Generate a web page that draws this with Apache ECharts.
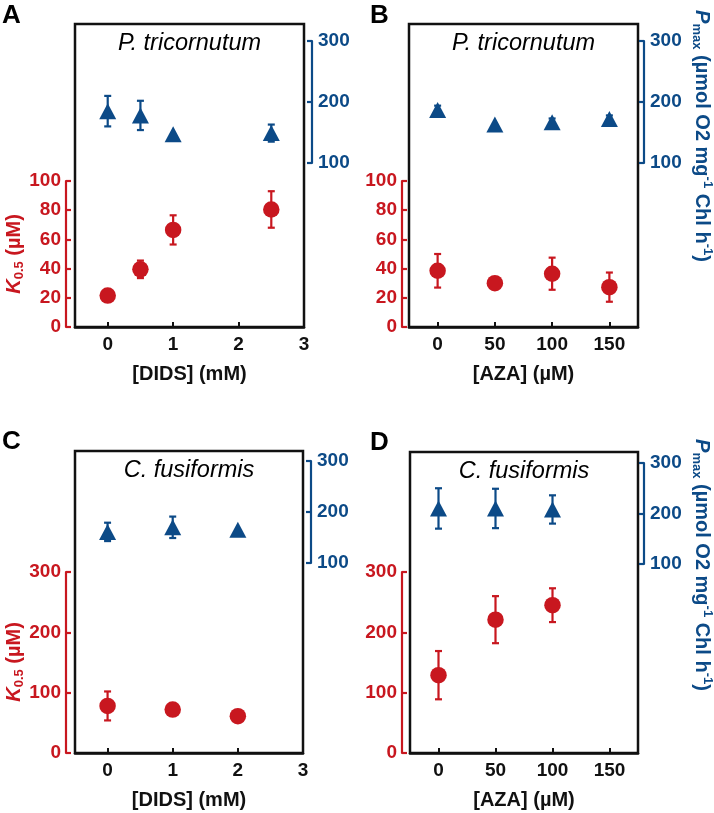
<!DOCTYPE html>
<html>
<head>
<meta charset="utf-8">
<script src="https://cdn.jsdelivr.net/npm/echarts@6/dist/echarts.min.js"></script>
<style>html,body{margin:0;padding:0;background:#fff}#c{width:714px;height:813px}</style>
</head>
<body>
<div id="c"></div>
<script>
// ---------- DATA ----------
// Panel A: P. tricornutum, DIDS (mM)
const catA = [0, 0.5, 1, 2.5];
const kA = [21.5, 39.5, 66.5, 80.5];
const kErrA = [0, 6, 10, 12.5];
const pA = [185, 178, 147, 149];
const pErrA = [25, 24, 0, 14];
// Panel B: P. tricornutum, AZA (µM)
const catB = [0, 50, 100, 150];
const kB = [38.5, 30, 36.5, 27.3];
const kErrB = [11.5, 0, 11, 10];
const pB = [187, 163, 167, 172];
const pErrB = [7, 0, 6, 6];
// Panel C: C. fusiformis, DIDS (mM)
const catC = [0, 1, 2];
const kC = [78, 72, 61];
const kErrC = [24, 4, 6];
const pC = [161, 170, 165];
const pErrC = [18, 21, 0];
// Panel D: C. fusiformis, AZA (µM)
const catD = [0, 50, 100];
const kD = [129, 221, 245];
const kErrD = [40, 39, 28];
const pD = [210, 210, 208];
const pErrD = [40, 39, 28];
// Tick labels
const ticksDIDS = [0, 1, 2, 3];
const ticksAZA = [0, 50, 100, 150];
const ticksK_A = [0, 20, 40, 60, 80, 100];
const ticksK_C = [0, 100, 200, 300];
const ticksP = [100, 200, 300];

// ---------- STYLE / LAYOUT ----------
const FONT = '"Liberation Sans", Arial, Helvetica, sans-serif';
const RED = '#c8171f';
const BLUE = '#0c4a87';
const INK = '#111111';

const panels = [
  { letter: 'A', title: 'P. tricornutum', x: catA, k: kA, kErr: kErrA, p: pA, pErr: pErrA,
    xMin: -0.5, xMax: 3, xTicks: ticksDIDS, xName: '[DIDS] (mM)', kTicks: ticksK_A,
    box: { l: 75, t: 24, r: 304, b: 327 }, redTop: 181, blueTop: 41, blueBot: 163,
    redOff: 9, blueOff: 8, letterPos: [2, 3], kLabel: [14, 254], pLabel: null },
  { letter: 'B', title: 'P. tricornutum', x: catB, k: kB, kErr: kErrB, p: pB, pErr: pErrB,
    xMin: -25, xMax: 175, xTicks: ticksAZA, xName: '[AZA] (µM)', kTicks: ticksK_A,
    box: { l: 409, t: 24, r: 638, b: 327 }, redTop: 181, blueTop: 41, blueBot: 163,
    redOff: 7, blueOff: 6, letterPos: [370, 3], kLabel: null, pLabel: [702, 136] },
  { letter: 'C', title: 'C. fusiformis', x: catC, k: kC, kErr: kErrC, p: pC, pErr: pErrC,
    xMin: -0.5, xMax: 3, xTicks: ticksDIDS, xName: '[DIDS] (mM)', kTicks: ticksK_C,
    box: { l: 75, t: 451, r: 303, b: 753 }, redTop: 572, blueTop: 461, blueBot: 563,
    redOff: 9, blueOff: 8, letterPos: [2, 429], kLabel: [14, 662], pLabel: null },
  { letter: 'D', title: 'C. fusiformis', x: catD, k: kD, kErr: kErrD, p: pD, pErr: pErrD,
    xMin: -25, xMax: 175, xTicks: ticksAZA, xName: '[AZA] (µM)', kTicks: ticksK_C,
    box: { l: 410, t: 452, r: 638, b: 753 }, redTop: 572, blueTop: 463, blueBot: 564,
    redOff: 8, blueOff: 6, letterPos: [370, 430], kLabel: null, pLabel: [702, 565] }
];

const grid = [], xAxis = [], yAxis = [], series = [], graphic = [];

function errRender(color) {
  return function (params, api) {
    const x = api.value(0), y = api.value(1), e = api.value(2);
    if (!e) return null;
    const top = api.coord([x, y + e]);
    const bot = api.coord([x, y - e]);
    const cw = 3.5;
    const st = { stroke: color, lineWidth: 2.2 };
    return {
      type: 'group',
      children: [
        { type: 'line', shape: { x1: top[0], y1: top[1], x2: bot[0], y2: bot[1] }, style: st },
        { type: 'line', shape: { x1: top[0] - cw, y1: top[1], x2: top[0] + cw, y2: top[1] }, style: st },
        { type: 'line', shape: { x1: bot[0] - cw, y1: bot[1], x2: bot[0] + cw, y2: bot[1] }, style: st }
      ]
    };
  };
}

panels.forEach(function (P) {
  const w = P.box.r - P.box.l;
  const base = grid.length;
  grid.push({ left: P.box.l, top: P.box.t, width: w, height: P.box.b - P.box.t,
    show: true, borderColor: INK, borderWidth: 2.5, backgroundColor: 'transparent' });
  grid.push({ left: P.box.l, top: P.redTop, width: w, height: P.box.b - P.redTop });
  grid.push({ left: P.box.l, top: P.blueTop, width: w, height: P.blueBot - P.blueTop });

  xAxis.push({ gridIndex: base, type: 'value', min: P.xMin, max: P.xMax,
    name: P.xName, nameLocation: 'middle', nameGap: 37,
    nameTextStyle: { fontFamily: FONT, fontWeight: 'bold', fontSize: 20, color: INK },
    axisLine: { show: true, onZero: false, lineStyle: { color: INK, width: 2.5 } },
    axisTick: { show: true, inside: true, length: 5, lineStyle: { color: INK, width: 2 }, customValues: P.xTicks },
    axisLabel: { show: true, color: INK, fontFamily: FONT, fontWeight: 'bold', fontSize: 19, margin: 8, customValues: P.xTicks },
    splitLine: { show: false } });
  xAxis.push({ gridIndex: base + 1, type: 'value', min: P.xMin, max: P.xMax, show: false });
  xAxis.push({ gridIndex: base + 2, type: 'value', min: P.xMin, max: P.xMax, show: false });

  yAxis.push({ gridIndex: base, type: 'value', show: false, min: 0, max: 1 });
  const kMax = P.kTicks[P.kTicks.length - 1];
  yAxis.push({ gridIndex: base + 1, type: 'value', position: 'left', offset: P.redOff,
    min: 0, max: kMax, interval: P.kTicks[1] - P.kTicks[0],
    axisLine: { show: true, onZero: false, lineStyle: { color: RED, width: 2.2 } },
    axisTick: { show: true, inside: true, length: 5, lineStyle: { color: RED, width: 2.2 } },
    axisLabel: { color: RED, fontFamily: FONT, fontWeight: 'bold', fontSize: 19, margin: 5 },
    splitLine: { show: false } });
  yAxis.push({ gridIndex: base + 2, type: 'value', position: 'right', offset: P.blueOff,
    min: ticksP[0], max: ticksP[ticksP.length - 1], interval: ticksP[1] - ticksP[0],
    axisLine: { show: true, onZero: false, lineStyle: { color: BLUE, width: 2.2 } },
    axisTick: { show: true, inside: true, length: 5, lineStyle: { color: BLUE, width: 2.2 } },
    axisLabel: { color: BLUE, fontFamily: FONT, fontWeight: 'bold', fontSize: 19, margin: 6 },
    splitLine: { show: false } });

  const kData = P.x.map(function (v, i) { return [v, P.k[i], P.kErr[i]]; });
  const pData = P.x.map(function (v, i) { return [v, P.p[i], P.pErr[i]]; });

  series.push({ type: 'custom', xAxisIndex: base + 1, yAxisIndex: base + 1, data: kData,
    renderItem: errRender(RED), encode: { x: 0, y: 1 }, z: 2, silent: true });
  series.push({ type: 'scatter', xAxisIndex: base + 1, yAxisIndex: base + 1, data: kData,
    symbol: 'circle', symbolSize: 16.5, itemStyle: { color: RED, opacity: 1 }, z: 3, silent: true });
  series.push({ type: 'custom', xAxisIndex: base + 2, yAxisIndex: base + 2, data: pData,
    renderItem: errRender(BLUE), encode: { x: 0, y: 1 }, z: 2, silent: true });
  series.push({ type: 'scatter', xAxisIndex: base + 2, yAxisIndex: base + 2, data: pData,
    symbol: 'triangle', symbolSize: [17, 16], itemStyle: { color: BLUE, opacity: 1 }, z: 3, silent: true });

  graphic.push({ type: 'text', x: P.letterPos[0], y: P.letterPos[1],
    style: { text: P.letter, fill: '#000', font: 'bold 26px ' + FONT, textVerticalAlign: 'top' } });
  graphic.push({ type: 'text', x: (P.box.l + P.box.r) / 2, y: P.box.t + 19,
    style: { text: P.title, fill: '#000', font: 'italic 23.5px ' + FONT, align: 'center', verticalAlign: 'middle' } });
  if (P.kLabel) {
    graphic.push({ type: 'text', x: P.kLabel[0], y: P.kLabel[1], rotation: Math.PI / 2,
      style: { text: '{i|K}{s|0.5}{n| (µM)}', align: 'center', verticalAlign: 'middle',
        rich: {
          i: { fill: RED, font: 'italic bold 20px ' + FONT, lineHeight: 24 },
          s: { fill: RED, font: 'bold 13px ' + FONT, lineHeight: 13, verticalAlign: 'bottom' },
          n: { fill: RED, font: 'bold 20px ' + FONT, lineHeight: 24 }
        } } });
  }
  if (P.pLabel) {
    graphic.push({ type: 'text', x: P.pLabel[0], y: P.pLabel[1], rotation: -Math.PI / 2,
      style: { text: '{i|P}{s|max}{n| (µmol O2 mg}{p|-1}{n| Chl h}{p|-1}{n|)}', align: 'center', verticalAlign: 'middle',
        rich: {
          i: { fill: BLUE, font: 'italic bold 20px ' + FONT, lineHeight: 24 },
          s: { fill: BLUE, font: 'bold 13px ' + FONT, lineHeight: 13, verticalAlign: 'bottom' },
          p: { fill: BLUE, font: 'bold 13px ' + FONT, lineHeight: 13, verticalAlign: 'top' },
          n: { fill: BLUE, font: 'bold 20px ' + FONT, lineHeight: 24 }
        } } });
  }
});

const chart = echarts.init(document.getElementById('c'), null, { renderer: 'canvas' });
chart.setOption({
  animation: false,
  backgroundColor: '#ffffff',
  grid: grid, xAxis: xAxis, yAxis: yAxis, series: series, graphic: graphic
});
</script>
</body>
</html>
